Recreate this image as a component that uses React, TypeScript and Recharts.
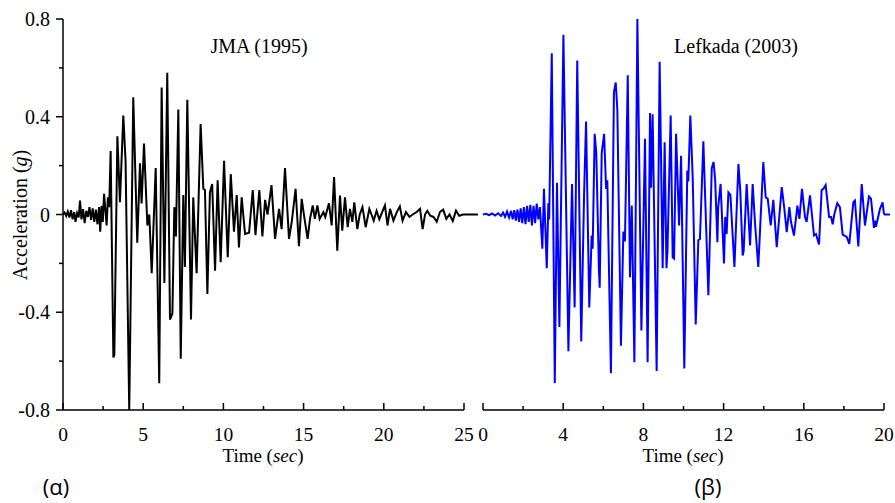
import React from "react";
import { LineChart, Line, XAxis, YAxis, ReferenceLine } from "recharts";

// JMA (1995) record
const jmaTime = [
  0, 0.1, 0.2, 0.3, 0.4, 0.5, 0.6, 0.7, 0.78, 0.88, 0.98, 1.06, 1.15, 1.25, 1.35, 1.45, 1.55, 1.65, 1.75, 1.85,
  1.95, 2.05, 2.15, 2.25, 2.32, 2.4, 2.48, 2.56, 2.64, 2.72, 2.8, 2.88, 2.97, 3.14, 3.2, 3.39, 3.55, 3.76, 3.9, 4.13,
  4.38, 4.63, 4.8, 4.9, 5.05, 5.26, 5.38, 5.53, 5.78, 6.0, 6.15, 6.32, 6.5, 6.67, 6.82, 6.94, 7.04, 7.19, 7.34, 7.5,
  7.6, 7.75, 7.98, 8.12, 8.33, 8.58, 8.75, 8.85, 9.0, 9.16, 9.3, 9.48, 9.64, 9.83, 10.04, 10.27, 10.46, 10.66, 10.83, 10.97,
  11.14, 11.35, 11.6, 11.83, 12.0, 12.24, 12.43, 12.6, 12.75, 13.0, 13.22, 13.47, 13.63, 13.84, 14.09, 14.26, 14.5, 14.71, 14.88, 15.04,
  15.25, 15.4, 15.57, 15.7, 15.86, 16.0, 16.23, 16.35, 16.58, 16.75, 16.9, 17.1, 17.27, 17.41, 17.58, 17.75, 17.89, 18.04, 18.16, 18.35,
  18.5, 18.67, 18.87, 19.1, 19.23, 19.37, 19.55, 19.72, 19.9, 20.07, 20.23, 20.39, 20.6, 20.81, 21.0, 21.17, 21.38, 21.6, 21.8, 22.05,
  22.26, 22.42, 22.57, 22.71, 22.9, 23.1, 23.3, 23.5, 23.7, 23.9, 24.1, 24.3, 24.5, 24.7, 24.95, 25,
];
const jmaAcc = [
  0, 0.008, -0.006, 0.012, -0.012, 0.018, -0.02, 0.01, -0.03, 0.006, -0.012, 0.057, -0.02, 0.022, -0.035, 0.015, -0.01, 0.03, -0.022, 0.025,
  -0.03, 0.02, -0.04, 0.03, -0.07, 0.035, -0.03, 0.085, 0.02, -0.045, 0.07, 0.03, 0.26, -0.585, -0.575, 0.32, 0.05, 0.405, 0.22, -0.8,
  0.48, -0.115, 0.21, 0.045, 0.29, -0.045, 0.0, -0.24, 0.19, -0.69, 0.52, -0.28, 0.58, -0.43, -0.405, 0.03, -0.09, 0.43, -0.59, 0.08,
  -0.215, 0.47, -0.43, 0.07, -0.24, 0.37, 0.105, 0.1, -0.325, 0.09, 0.125, -0.23, 0.14, -0.195, 0.22, -0.175, 0.165, -0.07, 0.08, -0.135,
  0.07, -0.08, -0.075, 0.1, -0.085, 0.1, -0.09, 0.06, 0.0, 0.12, -0.1, 0.023, -0.06, 0.19, -0.1, -0.03, 0.105, -0.13, 0.064, -0.01,
  -0.1, -0.018, 0.037, -0.018, 0.037, -0.018, 0.01, -0.01, 0.046, -0.045, 0.153, -0.148, 0.078, -0.066, 0.07, -0.052, 0.023, -0.03, 0.05, -0.06,
  0.0, 0.03, -0.052, 0.023, 0.0, -0.025, 0.015, -0.02, 0.01, 0.037, -0.045, 0.023, -0.025, 0.01, 0.033, -0.025, 0.01, -0.01, 0.0, 0.01,
  0.023, -0.06, 0.0, 0.015, -0.005, -0.01, -0.03, 0.01, 0.02, -0.018, 0.0, -0.027, 0.016, -0.005, 0.0, 0,
];

// Lefkada (2003) record
const lefkadaTime = [
  0, 0.15, 0.3, 0.45, 0.6, 0.75, 0.9, 1.0, 1.1, 1.2, 1.3, 1.4, 1.48, 1.56, 1.64, 1.72, 1.8, 1.88, 1.96, 2.04,
  2.12, 2.2, 2.28, 2.36, 2.44, 2.52, 2.6, 2.68, 2.76, 2.84, 2.96, 3.04, 3.18, 3.26, 3.3, 3.43, 3.58, 3.69, 3.81, 4.01,
  4.26, 4.44, 4.57, 4.7, 4.9, 5.04, 5.14, 5.3, 5.42, 5.47, 5.57, 5.65, 5.78, 5.82, 5.92, 6.04, 6.14, 6.2, 6.38, 6.53,
  6.62, 6.7, 6.88, 7.0, 7.08, 7.22, 7.33, 7.42, 7.55, 7.7, 7.9, 8.08, 8.21, 8.33, 8.38, 8.46, 8.66, 8.81, 8.96, 9.06,
  9.15, 9.2, 9.36, 9.46, 9.53, 9.63, 9.78, 9.88, 10.04, 10.19, 10.24, 10.34, 10.46, 10.61, 10.74, 10.82, 10.99, 11.24, 11.41, 11.5,
  11.58, 11.69, 11.73, 11.85, 12.02, 12.08, 12.15, 12.24, 12.34, 12.54, 12.74, 12.83, 12.95, 13.0, 13.15, 13.32, 13.45, 13.57, 13.73, 13.98,
  14.1, 14.2, 14.35, 14.48, 14.65, 14.9, 15.02, 15.15, 15.28, 15.36, 15.51, 15.68, 15.78, 15.91, 16.06, 16.14, 16.31, 16.51, 16.61, 16.68,
  16.76, 16.89, 16.98, 17.09, 17.26, 17.36, 17.44, 17.52, 17.67, 17.8, 17.94, 18.14, 18.27, 18.47, 18.55, 18.72, 18.89, 19.05, 19.25, 19.35,
  19.5, 19.55, 19.6, 19.8, 19.93, 20,
];
const lefkadaAcc = [
  0, 0.003, -0.003, 0.004, -0.004, 0.005, -0.006, 0.008, -0.01, 0.012, -0.012, 0.015, -0.02, 0.018, -0.025, 0.02, -0.03, 0.025, -0.035, 0.03,
  -0.04, 0.035, -0.03, 0.04, -0.045, 0.035, -0.035, 0.045, -0.02, 0.03, -0.14, 0.105, -0.22, 0.046, -0.02, 0.66, -0.69, 0.13, -0.46, 0.735,
  -0.56, 0.125, -0.38, 0.63, -0.52, 0.078, 0.38, -0.38, -0.086, -0.14, 0.33, 0.25, -0.22, -0.3, 0.25, 0.33, 0.105, 0.14, -0.65, 0.5,
  0.54, 0.43, -0.537, -0.07, -0.11, 0.57, -0.257, 0.037, -0.605, 0.8, -0.475, 0.31, -0.605, 0.415, 0.11, 0.41, -0.64, 0.625, -0.22, 0.296,
  -0.22, -0.15, 0.405, -0.175, -0.18, 0.33, -0.045, 0.24, -0.63, 0.18, 0.135, 0.405, 0.15, -0.45, -0.105, -0.1, 0.3, -0.33, 0.19, 0.215,
  0.14, -0.113, 0.03, 0.125, -0.2, -0.01, -0.08, 0.09, 0.08, -0.215, 0.207, 0.1, -0.168, -0.15, 0.125, -0.127, 0.125, -0.04, -0.215, 0.215,
  0.07, 0.065, -0.045, 0.06, -0.134, 0.112, 0.03, -0.072, 0.03, -0.03, -0.086, 0.036, -0.018, 0.105, -0.01, -0.03, 0.078, -0.086, -0.08, -0.1,
  -0.123, 0.1, 0.105, 0.12, -0.01, -0.01, -0.04, 0.0, 0.046, 0.03, -0.082, -0.092, -0.12, 0.05, 0.057, -0.131, 0.125, -0.045, 0.074, 0.065,
  -0.055, -0.025, -0.05, 0.023, 0.05, 0,
];

const jmaTicks = [0, 2.5, 5, 7.5, 10, 12.5, 15, 17.5, 20, 22.5, 25];
const lefkadaTicks = [0, 2, 4, 6, 8, 10, 12, 14, 16, 18, 20];
const accTicks = [-0.8, -0.6, -0.4, -0.2, 0, 0.2, 0.4, 0.6, 0.8];
// both traces keep running flat a little past the end of their axes
const jmaTailEnd = 26;
const lefkadaTailEnd = 20.3;

const jmaData = jmaTime.map((t, i) => ({ t, a: jmaAcc[i] }));
const lefkadaData = lefkadaTime.map((t, i) => ({ t, a: lefkadaAcc[i] }));

const SERIF = '"Liberation Serif", "Times New Roman", serif';
const axisLine = { stroke: "#000", strokeWidth: 1.5 };

const isMajor = (v: number, step: number) => Math.abs(v / step - Math.round(v / step)) < 1e-6;

// x ticks point up into the plot, labelled every `step`
function timeTick(step: number) {
  return (props: any) => {
    const { x, y, payload } = props;
    const major = isMajor(payload.value, step);
    return (
      <g>
        <line x1={x} y1={y} x2={x} y2={y - (major ? 7 : 4)} stroke="#000" strokeWidth={1.5} />
        {major && (
          <text x={x} y={y + 31} textAnchor="middle" fontFamily={SERIF} fontSize={19.5} fill="#000">
            {payload.value}
          </text>
        )}
      </g>
    );
  };
}

// y ticks point outward, labelled every 0.4
function accTick(props: any) {
  const { x, y, payload } = props;
  const major = isMajor(payload.value, 0.4);
  return (
    <g>
      <line x1={x} y1={y} x2={x - (major ? 7 : 4)} y2={y} stroke="#000" strokeWidth={1.5} />
      {major && (
        <text x={x - 13} y={y + 7} textAnchor="end" fontFamily={SERIF} fontSize={20} fill="#000">
          {payload.value}
        </text>
      )}
    </g>
  );
}

export default function App() {
  return (
    <div style={{ position: "absolute", left: 0, top: 0, width: 895, height: 503, background: "#fff" }}>
      <div style={{ position: "absolute", left: 0, top: 0 }}>
        <LineChart width={478} height={503} data={jmaData} margin={{ top: 19, right: 14, left: 0, bottom: 63 }}>
          <XAxis
            dataKey="t"
            type="number"
            domain={[0, 25]}
            ticks={jmaTicks}
            interval={0}
            tickSize={0}
            tickMargin={0}
            tickLine={false}
            axisLine={axisLine}
            tick={timeTick(5)}
            height={30}
          />
          <YAxis
            type="number"
            domain={[-0.8, 0.8]}
            ticks={accTicks}
            interval={0}
            tickSize={0}
            tickMargin={0}
            tickLine={false}
            axisLine={axisLine}
            tick={accTick}
            width={63}
          />
          <Line dataKey="a" type="linear" stroke="#000" strokeWidth={2} dot={false} isAnimationActive={false} />
          <ReferenceLine
            segment={[{ x: 25, y: 0 }, { x: jmaTailEnd, y: 0 }]}
            stroke="#000"
            strokeWidth={2}
            ifOverflow="visible"
          />
        </LineChart>
      </div>
      <div style={{ position: "absolute", left: 477, top: 0 }}>
        <LineChart width={418} height={503} data={lefkadaData} margin={{ top: 19, right: 11, left: 6, bottom: 63 }}>
          <XAxis
            dataKey="t"
            type="number"
            domain={[0, 20]}
            ticks={lefkadaTicks}
            interval={0}
            tickSize={0}
            tickMargin={0}
            tickLine={false}
            axisLine={axisLine}
            tick={timeTick(4)}
            height={30}
          />
          <YAxis type="number" domain={[-0.8, 0.8]} hide />
          <Line dataKey="a" type="linear" stroke="#0000ff" strokeWidth={2} dot={false} isAnimationActive={false} />
          <ReferenceLine
            segment={[{ x: 20, y: 0 }, { x: lefkadaTailEnd, y: 0 }]}
            stroke="#0000ff"
            strokeWidth={2}
            ifOverflow="visible"
          />
        </LineChart>
      </div>
      <svg width={895} height={503} style={{ position: "absolute", left: 0, top: 0, pointerEvents: "none" }}>
        <g fontFamily={SERIF} fontSize={20} fill="#000">
          <text x={259} y={53} textAnchor="middle">JMA (1995)</text>
          <text x={736} y={53} textAnchor="middle">Lefkada (2003)</text>
          <text x={263} y={462} textAnchor="middle" fontSize={19}>
            Time (<tspan fontStyle="italic">sec</tspan>)
          </text>
          <text x={683} y={462} textAnchor="middle" fontSize={19}>
            Time (<tspan fontStyle="italic">sec</tspan>)
          </text>
          <text x={27} y={215} textAnchor="middle" transform="rotate(-90 27 215)">
            Acceleration (<tspan fontStyle="italic">g</tspan>)
          </text>
        </g>
        <g fontFamily='"Open Sans", sans-serif' fontSize={22} fill="#000">
          <text x={56} y={495} textAnchor="middle">(α)</text>
          <text x={708} y={495} textAnchor="middle">(β)</text>
        </g>
      </svg>
    </div>
  );
}
